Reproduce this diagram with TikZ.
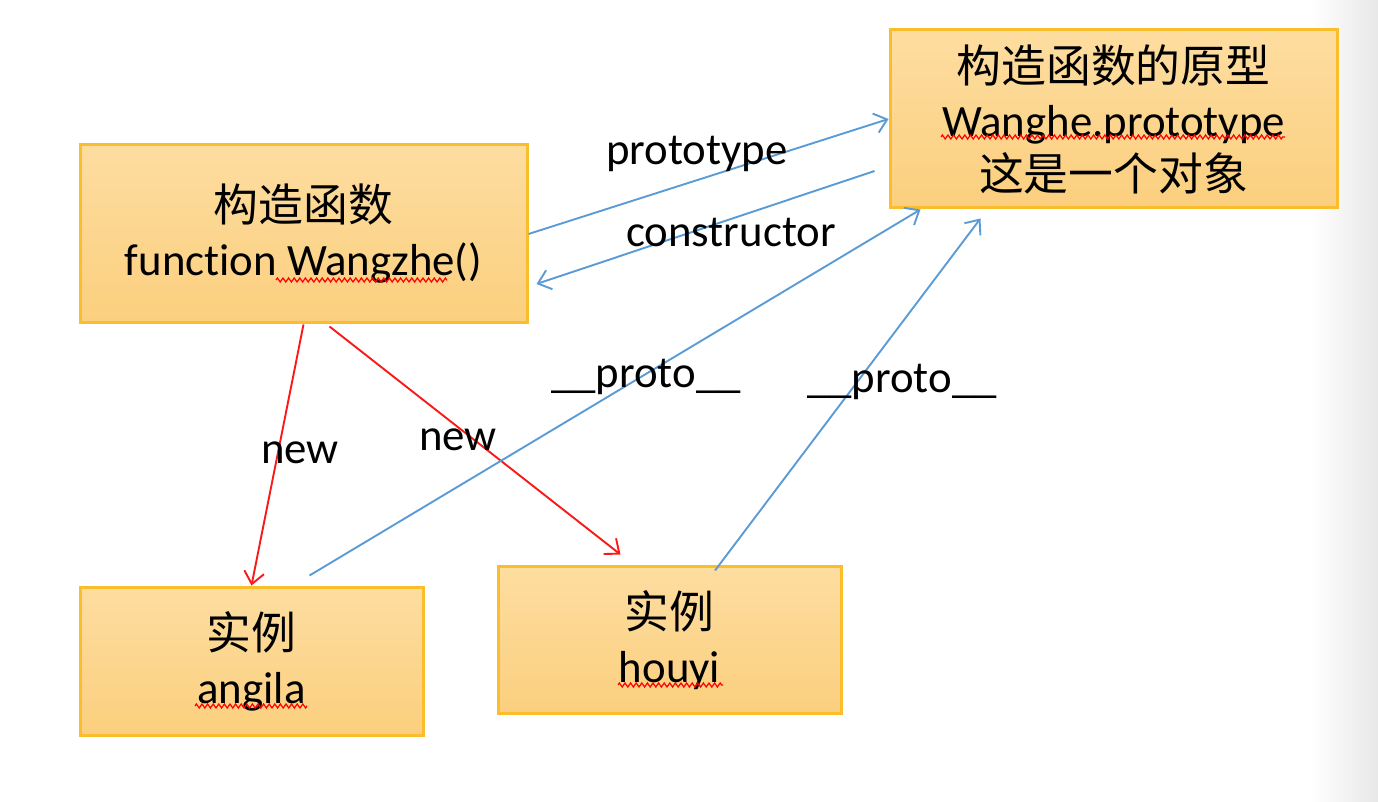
\documentclass[tikz,border=0pt]{standalone}
\usepackage{fontspec}
\setmainfont{Carlito}[Ligatures=NoCommon]
\newfontfamily\cjk{Noto Sans CJK SC}
\usetikzlibrary{arrows.meta, calc, decorations.pathmorphing}
\definecolor{boxline}{RGB}{250,190,45}
\definecolor{boxtop}{RGB}{253,221,160}
\definecolor{boxbottom}{RGB}{251,207,126}
\definecolor{linkblue}{RGB}{91,155,213}
\definecolor{newred}{RGB}{250,25,25}
\tikzstyle{protobox} = [draw=boxline, line width=1.5pt, top color=boxtop,
    bottom color=boxbottom, rectangle, align=center, inner sep=0pt,
    font=\fontsize{22.4}{27}\selectfont]
\tikzstyle{linkArrow} = [draw=linkblue, line width=0.95pt,
    -{Straight Barb[length=6pt,width=10pt]}]
\tikzstyle{newArrow} = [linkArrow, draw=newred]
\tikzstyle{arrowlabel} = [font=\fontsize{22.4}{27}\selectfont, inner sep=0pt, anchor=base]
\tikzstyle{spellmark} = [draw=red, line width=0.6pt, decorate,
    decoration={zigzag, amplitude=1pt, segment length=2.8pt}]

\begin{document}
\begin{tikzpicture}[x=0.5pt, y=-0.5pt]
\useasboundingbox (0,0) rectangle (1378,802);
\shade[left color=white, right color=black!9] (1310,0) rectangle (1378,802);

\node[protobox, minimum width=223.5pt, minimum height=89pt] (ctor) at (303.5,234)
    {{\cjk 构造函数}\\function Wangzhe()};
\node[protobox, minimum width=223.5pt, minimum height=89pt] (proto) at (1113.5,119)
    {{\cjk 构造函数的原型}\\Wanghe.prototype\\{\cjk 这是一个对象}};
\node[protobox, minimum width=171.5pt, minimum height=74pt] (angila) at (251.5,661)
    {{\cjk 实例}\\angila};
\node[protobox, minimum width=171.5pt, minimum height=73pt] (houyi) at (669.5,640)
    {{\cjk 实例}\\houyi};

% spell check marks
\draw[spellmark] (276,280) -- (447,280);
\draw[spellmark] (941,137) -- (1285,137);
\draw[spellmark] (195,706) -- (307,706);
\draw[spellmark] (618,685) -- (723,685);

\draw[linkArrow] (ctor.east) -- (proto.west);
\draw[linkArrow] ($(proto.west)+(-14,52)$) -- ($(ctor.east)+(8,50)$);
\draw[newArrow] (ctor.south) -- (angila.north);
\draw[newArrow] ($(ctor.south)+(26,2)$) -- ($(houyi.north west)+(124,-11)$);
\draw[linkArrow] ($(angila.north)+(58,-10)$) -- ($(proto.south west)+(32,0)$);
\draw[linkArrow] ($(houyi.north)+(45.5,5)$) -- ($(proto.south west)+(92,9)$);

\node[arrowlabel] (lblproto) at (697,165) {prototype};
\node[arrowlabel] (lblctor) at (731,247) {constructor};
\node[arrowlabel] (lblnewa) at (300,464) {new};
\node[arrowlabel] (lblnewb) at (458,451) {new};
\node[arrowlabel] (lbllinka) at (646,388) {\_\_proto\_\_};
\node[arrowlabel] (lbllinkb) at (902,393) {\_\_proto\_\_};
\end{tikzpicture}
\end{document}
